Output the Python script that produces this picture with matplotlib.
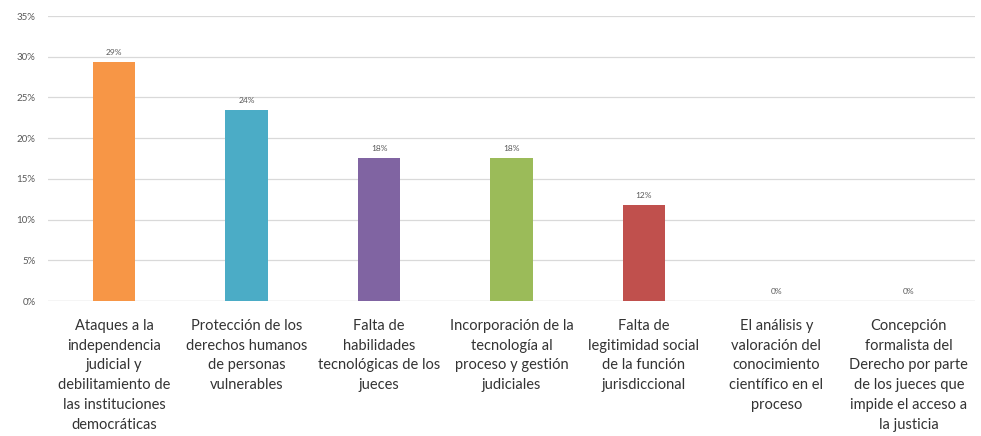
import matplotlib
matplotlib.use("Agg")
import matplotlib.pyplot as plt
from matplotlib.ticker import FuncFormatter

categories = [
    "Ataques a la\nindependencia\njudicial y\ndebilitamiento de\nlas instituciones\ndemocráticas",
    "Protección de los\nderechos humanos\nde personas\nvulnerables",
    "Falta de\nhabilidades\ntecnológicas de los\njueces",
    "Incorporación de la\ntecnología al\nproceso y gestión\njudiciales",
    "Falta de\nlegitimidad social\nde la función\njurisdiccional",
    "El análisis y\nvaloración del\nconocimiento\ncientífico en el\nproceso",
    "Concepción\nformalista del\nDerecho por parte\nde los jueces que\nimpide el acceso a\nla justicia",
]
values = [29.4, 23.5, 17.6, 17.6, 11.8, 0, 0]
value_labels = ["29%", "24%", "18%", "18%", "12%", "0%", "0%"]
colors = ["#F79646", "#4BACC6", "#8064A2", "#9BBB59", "#C0504D", "#F79646", "#4BACC6"]
yticks = [0, 5, 10, 15, 20, 25, 30, 35]

plt.rcParams['font.family'] = ['Lato', 'DejaVu Sans']

fig = plt.figure(figsize=(9.81, 4.36), dpi=100)
ax = fig.add_axes([48/981, 1-301/436, (975-48)/981, (301-16)/436])

x = list(range(len(categories)))
bars = ax.bar(x, values, width=0.32, color=colors, zorder=3)
for xi, v, lab in zip(x, values, value_labels):
    ax.annotate(lab, (xi, v), xytext=(0, 4), textcoords="offset points",
                ha="center", va="bottom", fontsize=6, color="#595959")

ax.set_xlim(-0.5, len(categories) - 0.5)
ax.set_ylim(0, 35)
ax.set_yticks(yticks)
ax.yaxis.set_major_formatter(FuncFormatter(lambda v, p: f"{v:.0f}%"))
ax.tick_params(axis="y", length=0, pad=9, labelsize=7, labelcolor="#595959")
ax.set_xticks(x)
ax.set_xticklabels(categories, fontsize=10.5, color="#333333", linespacing=1.52)
ax.tick_params(axis="x", length=0, pad=13)
ax.grid(axis="y", color="#D9D9D9", linewidth=0.9, zorder=0)
for s in ax.spines.values():
    s.set_visible(False)
ax.axhline(0, color="#D9D9D9", linewidth=0.9, zorder=1)

fig.savefig("out.png", dpi=100)
